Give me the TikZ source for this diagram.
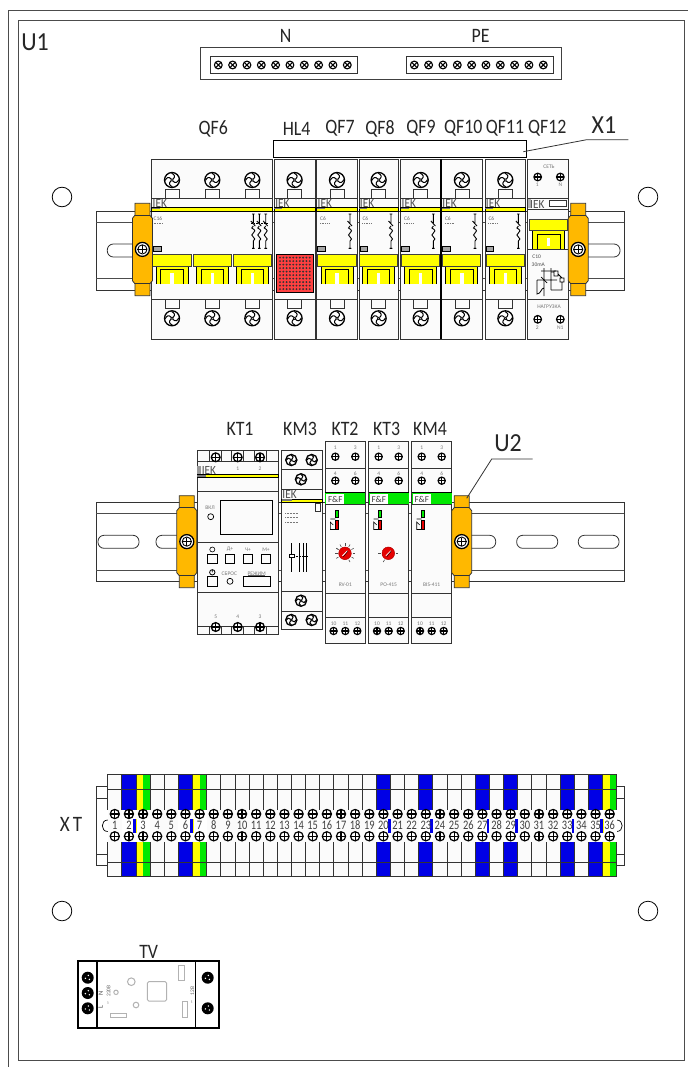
\documentclass[tikz,border=0pt]{standalone}
\usepackage{fontspec}
\setmainfont{Carlito}
\definecolor{clampc}{HTML}{FFB800}
\definecolor{ye}{HTML}{FFFF00}
\definecolor{gr}{HTML}{00E800}
\definecolor{bl}{HTML}{0000E6}
\definecolor{re}{HTML}{FF4040}
\definecolor{dk}{HTML}{333333}
\definecolor{tgray}{HTML}{777777}
\definecolor{paper}{HTML}{FBFBFB}
\tikzset{
 lbl/.style={font=\fontsize{20.5}{20.5}\selectfont,inner sep=0pt,text=black!85,xscale=0.87},
 biglbl/.style={font=\fontsize{26}{26}\selectfont,inner sep=0pt,text=black!85,xscale=0.92},
 tiny/.style={font=\fontsize{5.5}{6}\selectfont,inner sep=0pt,text=tgray},
 small/.style={font=\fontsize{7}{7}\selectfont,inner sep=0pt,text=tgray},
 iek/.style={font=\fontsize{12.5}{12.5}\selectfont,inner sep=0pt,text=black!70,anchor=west,xscale=.9},
 ln/.style={draw=dk,line width=0.8pt},
 hv/.style={draw=black,line width=1pt},
}
% pinwheel screw: x y r
\newcommand{\pinw}[3]{\begin{scope}[shift={(#1,#2)},scale=#3]
 \draw[fill=white,line width=1.3pt] (0,0) circle (1);
 \foreach \a in {0,90,180,270}{\draw[rotate=\a,line width=1pt] (.1,.12) .. controls (.45,.5) and (.7,.35) .. (.9,-.05);}
 \draw[fill=white,line width=.6pt] (0,0) circle (.16);
\end{scope}}
% cross screw
\newcommand{\crs}[4][1.2pt]{\begin{scope}[shift={(#2,#3)},scale=#4]
 \draw[fill=white,line width=#1] (0,0) circle (1);
 \draw[line width=#1] (-1,0)--(1,0) (0,-1)--(0,1);
\end{scope}}
% x screw
\newcommand{\xcrs}[2]{\begin{scope}[shift={(#1,#2)},scale=3.9]
 \draw[fill=white,line width=1.1pt] (0,0) circle (1);
 \draw[line width=1.1pt] (-.7,-.7)--(.7,.7) (-.7,.7)--(.7,-.7);
\end{scope}}
% din rail ytop ybottom line1 line2
\newcommand{\railbody}[4]{\draw[ln,fill=white] (96.3,#1) rectangle (624.3,#2);
 \draw[ln,draw=black!70,line width=1pt] (96.3,#3)--(624.3,#3) (96.3,#4)--(624.3,#4);}
\newcommand{\slotr}[4]{\draw[ln,rounded corners=6pt] (#1,#3) rectangle (#2,#4);}
% din clamp cx ytop ybottom
\newcommand{\clampd}[3]{
 \draw[draw=dk,line width=.8pt,fill=clampc] (#1-7.5,#2)--(#1+7.5,#2)--(#1+7.5,#2+12)--(#1+10,#2+15)--(#1+10,#3-15)--(#1+7.5,#3-12)--(#1+7.5,#3)--(#1-7.5,#3)--(#1-7.5,#3-12)--(#1-10,#3-15)--(#1-10,#2+15)--(#1-7.5,#2+12)--cycle;
 \draw[draw=dk,line width=.7pt] (#1-7.5,#2+12)--(#1+7.5,#2+12) (#1-7.5,#3-12)--(#1+7.5,#3-12);
 \pgfmathsetmacro\cy{(#2+#3)/2-.1}
 \draw[fill=white,line width=1.3pt] (#1,\cy) circle (7);
 \draw[fill=white,line width=.9pt] (#1,\cy) circle (4.6);
 \draw[line width=.9pt] (#1-5,\cy)--(#1+5,\cy) (#1,\cy-4)--(#1,\cy+4);
}
% pole of a breaker: cx
\newcommand{\pole}[1]{
 \draw[ln] (#1-7,189.3) rectangle (#1+7,198.7);
 \draw[ln] (#1-7,299.3) rectangle (#1+7,308.7);
 \pinw{#1}{180}{7.5}
 \pinw{#1}{318.3}{7.5}
}
\newcommand{\yellowp}[1]{
 \fill[ye] (#1-16,266) rectangle (#1+16,284.3);
 \draw[draw=black,line width=.9pt] (#1-16,266)--(#1-16,284.3) (#1+16,266)--(#1+16,284.3);
 \draw[draw=black,line width=1pt] (#1-11.3,284.3)--(#1-11.3,269.3)--(#1+11.3,269.3)--(#1+11.3,284.3);
 \fill[white] (#1-1.6,273.3) rectangle (#1+1.6,284.3);
 \draw[draw=black!75,line width=1pt,fill=ye] (#1-19.2,254) rectangle (#1+19,266);
}
% module box xl xr
\newcommand{\modb}[2]{
 \draw[draw=dk,line width=1pt,fill=paper] (#1,159.3) rectangle (#2,339);
 \draw[ln] (#1,198.7)--(#2,198.7) (#1,299.3)--(#2,299.3);
 \draw[draw=black,line width=.7pt,fill=ye] (#1,207.3) rectangle (#2,211);
 \fill[tgray] (#1,207.6) rectangle (#1+8,209.3);
 \node[iek] at (#1+.8,203.2) {IEK};
}
\newcommand{\ctxt}[2]{\node[tiny,anchor=west,text=black!60] at (#1,219) {#2};
 \draw[tgray,line width=.4pt,dash pattern=on 1pt off .7pt] (#1,223)--(#1+9,223);}
\newcommand{\gsq}[1]{\draw[draw=black,line width=.7pt,fill=black!35] (#1+1,246.7) rectangle (#1+8.5,251.7);}
% breaker symbol
\newcommand{\symb}[1]{
 \draw[black,line width=.9pt] (#1,214)--(#1,223) (#1-1.3,214)--(#1+1.3,214) (#1-2.5,221)--(#1+2,226) (#1,226)--(#1-1.5,228)
 .. controls (#1+2.5,230) and (#1+2,232) .. (#1,233) .. controls (#1-2,234) and (#1-2,236) .. (#1,237) .. controls (#1+2,238) and (#1+2,240) .. (#1,241) -- (#1,248.3)
 (#1-1.3,248.3)--(#1+1.3,248.3);
}
\newcommand{\relaym}[3]{ % xl name name-of-node
 \draw[draw=dk,line width=1pt,fill=paper] (#1,441.7) rectangle (#1+40,643.3);
 \draw[ln] (#1,468.3)--(#1+40,468.3) (#1,593)--(#1+40,593) (#1,617.3)--(#1+40,617.3);
 \fill[gr] (#1,493) rectangle (#1+40,504.3);
 \fill[white] (#1+1,494) rectangle (#1+19,504);
 \draw[black,line width=1.2pt] (#1,492.7)--(#1+40,492.7);
 \draw[dk,line width=.6pt] (#1,504.5)--(#1+40,504.5);
 \node[inner sep=0pt,font=\fontsize{9}{9}\selectfont,text=black!75] at (#1+10,499.3) {F\&F};
 \foreach \dx/\t in {10/1,30/3}{\node[tiny] at (#1+\dx,448) {\t};\crs[1.2pt]{#1+\dx}{456.7}{3.6}}
 \foreach \dx/\t in {10/4,30/6}{\node[tiny] at (#1+\dx,473.3) {\t};\crs[1.2pt]{#1+\dx}{480.7}{3.6}}
 \foreach \dx/\t in {8.3/10,20/11,32/12}{\node[tiny] at (#1+\dx,623.3) {\t};\crs[1.2pt]{#1+\dx}{631}{3.6}}
 \node[tiny] at (#1+20,585) {#2};
 \draw[black,line width=.5pt,fill=gr] (#1+10,510) rectangle (#1+13,517.7);
 \draw[black,line width=.5pt,fill=red!90!black] (#1+10,520.7) rectangle (#1+13,529);
 \draw[black,line width=.6pt] (#1+10,519)--(#1+5,519) (#1+10,529.5)--(#1+5,529.5)--(#1+5,522)--(#1+8,525);
}
\newcommand{\dial}[2]{
 \draw[fill=red!90!black,draw=red!70!black,line width=.5pt] (#1,553.3) circle (6.3);
 \draw[white,line width=.8pt] (#1-2.5,555.8)--(#1+2.5,550.8);
 \draw[black,line width=.4pt] (#1-1.5,556.8)--(#1+3,551);
 \foreach \a in {#2}{\draw[black!70,line width=.6pt] (#1,553.3) ++(\a:7.5)--++(\a:2.6);}
}
\begin{document}
\begin{tikzpicture}[x=1pt,y=-1pt,line cap=butt]
\useasboundingbox (0,0) rectangle (688,1067);
\fill[white] (0,0) rectangle (688,1067);
% frames
\draw[draw=black!70,line width=1pt] (8,1067)--(8,11)--(688,11);
\draw[draw=black!70,line width=1pt] (18,21) rectangle (684,1060);
\node[biglbl] (lU1) at (35,42) {U1};
% N PE
\draw[ln,draw=black!75] (200.7,47.7) rectangle (561.7,79.3);
\draw[ln] (210.7,56.7) rectangle (357.3,73.3);
\draw[ln] (406.7,56.7) rectangle (553.3,73.3);
\foreach \i in {0,...,9}{\xcrs{218.3+14.33*\i}{65}\xcrs{414.3+14.33*\i}{65}}
\node[lbl] (lN) at (285.7,36) {N};
\node[lbl] (lPE) at (480.7,36) {PE};
% mounting holes
\foreach \x/\y in {62/197,648/197,62/911,648/911}{\draw[black,line width=.8pt] (\x,\y) circle (9.8);}
% labels top
\foreach \t/\x in {QF6/213.3,HL4/296.7,QF7/340,QF8/380,QF9/421,QF10/463.3,QF11/505,QF12/547.3}{\node[lbl] (l\t) at (\x,128.5) {\t};}
\draw[ln,draw=black] (273.3,140.3) rectangle (526,157.3);
\coordinate (x1a) at (523.3,151.7);\coordinate (x1b) at (586.7,139.7);\coordinate (x1c) at (628.3,139.7);
\draw[ln] (x1a)--(x1b)--(x1c);
\node[biglbl] (lX1) at (604,125) {X1};
% rail row 1
\railbody{211.3}{290.3}{222.7}{278.3}
\slotr{107.3}{170}{244}{257}
\slotr{550}{620}{244}{257}
% QF6
\modb{151.7}{272.7}
\foreach \c in {172,212.3,252.3}{\pole{\c}\yellowp{\c}}
\ctxt{153.5}{C16}\gsq{152.7}
\symb{253.3}\symb{259.3}\symb{265.7}
\draw[black,line width=.5pt,dash pattern=on 1.5pt off 1pt] (251,223)--(268,223);
% HL4
\modb{274.3}{315}
\pole{294.6}
\draw[draw=black,line width=1pt,fill=re] (276,254) rectangle (313,292.7);
\foreach \i in {0,...,9}{\foreach \j in {0,...,9}{\fill[black!80] (280+3.3*\i,257.6+3.5*\j) circle (1.05);}}
% QF7-11
\foreach \xl/\xr in {316.7/357.3,359/398.3,400.7/440.7,441.5/482.3,485/525.7}{
 \pgfmathsetmacro\cc{(\xl+\xr)/2}
 \modb{\xl}{\xr}
 \pole{\cc}\yellowp{\cc}
 \ctxt{\xl+3.3}{C6}\gsq{\xl}
 \symb{\xr-7.3}
}
\draw[black,line width=1.3pt] (441,159.3)--(441,339);
% QF12
\draw[draw=dk,line width=1pt,fill=paper] (527.7,159.3) rectangle (568.7,339);
\draw[ln] (527.7,198.3)--(568.7,198.3) (527.7,209)--(568.7,209) (527.7,249.3)--(568.7,249.3) (527.7,299.3)--(568.7,299.3);
\fill[black!30] (527.7,198.7) rectangle (530.5,208.5);
\node[iek] at (530,204) {IEK};
\draw[ln,fill=white] (549,200.7) rectangle (566.7,206.7);
\fill[ye] (532.7,231) rectangle (564.3,249.3);
\draw[black,line width=.9pt] (532.7,231)--(532.7,249.3) (564.3,231)--(564.3,249.3);
\draw[black,line width=1pt] (537.3,249.3)--(537.3,234.3)--(560,234.3)--(560,249.3);
\fill[white] (546.7,238.3) rectangle (550,245.7);
\draw[draw=black!75,line width=1pt,fill=ye] (529,220) rectangle (567.3,231);
\node[tiny] (lseti) at (549,166.7) {СЕТЬ};
\node[tiny] (lnagr) at (549,306.7) {НАГРУЗКА};
\crs[1.2pt]{537.7}{177}{3.8}\crs[1.2pt]{560.3}{177}{3.8}
\crs[1.2pt]{537.7}{319.3}{3.8}\crs[1.2pt]{560.3}{319.3}{3.8}
\node[tiny] (l1a) at (537.3,185) {1};\node[tiny] (lNa) at (560.3,185) {N};
\node[tiny] (l2a) at (537.3,328) {2};\node[tiny] (lN1) at (560.3,328) {N1};
\node[tiny,text=black!70] (lC10) at (536.7,256.7) {C10};
\node[tiny,text=black!70] (l30) at (538.3,265) {30mA};
\draw[black,line width=.8pt] (544,268)--(544,296) (551,268)--(551,290) (537,280)--(557,280) (537,280)--(537,294) .. controls (541,294) and (541,288) .. (544,288);
\draw[black,line width=.8pt] (554,271) rectangle (558,276) (560,278) rectangle (564,282) (551,272)--(554,272) (558,274)--(562,278) (551,290)--(562,290)--(562,282);
\draw[black,line width=.7pt] (541,271)--(556,271) (541,277)--(547,283);
% clamps row 1
\clampd{142.4}{203.3}{295.7}
\clampd{578.2}{203.3}{295.7}
% rail row 2
\railbody{502.7}{581.3}{513.7}{570}
\slotr{98}{139}{535.3}{548.3}
\slotr{156}{190}{535.3}{548.3}
\slotr{455}{495.7}{535.3}{548.3}
\slotr{516.7}{557.7}{535.3}{548.3}
\slotr{578.3}{619}{535.3}{548.3}
% row 2 labels
\foreach \t/\x in {KT1/240,KM3/300,KT2/345,KT3/386.7,KM4/430}{\node[lbl] (l\t) at (\x,428.5) {\t};}
% KT1
\draw[draw=dk,line width=1pt,fill=paper] (197.3,450.7) rectangle (278.3,634);
\draw[ln] (197.3,461.7)--(278.3,461.7) (197.3,491)--(278.3,491) (197.3,542.3)--(278.3,542.3) (197.3,592.7)--(278.3,592.7) (197.3,626)--(278.3,626);
\fill[black!40] (197.3,466) rectangle (201,474);
\node[iek] at (201.7,470) {IEK};
\draw[draw=black,line width=.6pt,fill=ye] (197.3,474.3) rectangle (278.3,477.7);
\fill[tgray] (197.3,474.6) rectangle (206,476.5);
\foreach \x in {215.7,237.7,260}{
 \draw[ln] (\x-6,450.7) rectangle (\x+6,461.7);
 \draw[ln] (\x-6,626) rectangle (\x+6,634);
 \crs[1.3pt]{\x}{457.3}{4.4}\crs[1.3pt]{\x}{627}{4.4}}
\foreach \x/\t/\n in {237.7/1/a,260/2/b}{\node[tiny] (k\n) at (\x,469) {\t};}
\foreach \x/\t/\n in {215.7/5/c,237.7/4/d,260/3/e}{\node[tiny] (k\n) at (\x,616.7) {\t};}
\draw[draw=black,line width=.8pt] (220.7,500.3) rectangle (272.3,534);
\node[tiny] (kvkl) at (210,507.7) {ВКЛ};
\draw[black,line width=.7pt] (210.7,516.7) circle (3);
\foreach \x in {207.7,225.3,243.3,261.3}{\draw[black,line width=.7pt] (\x,554) rectangle (\x+9.4,563.7);}
\draw[black,line width=.7pt] (207.7,576) rectangle (217,586);
\draw[black,line width=.6pt] (212.3,549.5) circle (2.5);
\draw[black,line width=.8pt] (212.3,572.3) circle (2.7) (212.3,569.5)--(212.3,572.3);
\node[tiny] (kd) at (230,549.5) {Д+};
\node[tiny] (kch) at (248,549.5) {Ч+};
\node[tiny] (km) at (266,549.5) {М+};
\node[tiny] (ksb) at (229.3,573.7) {СБРОС};
\draw[black,line width=.7pt] (230,581.3) circle (3);
\node[tiny] (krz) at (256.7,573.7) {РЕЖИМ};
\draw[black,line width=.7pt] (243.3,576.3) rectangle (270.3,586.3);
\draw[black!60,line width=.5pt] (248,575)--(265,575);
% KM3
\draw[draw=dk,line width=1pt,fill=paper] (281.7,450.7) rectangle (322.3,629.3);
\draw[ln] (281.7,469.3)--(322.3,469.3) (281.7,489.3)--(322.3,489.3) (281.7,591)--(322.3,591) (281.7,611)--(322.3,611);
\node[iek] at (282.3,494.3) {IEK};
\draw[draw=black,line width=.6pt,fill=ye] (281.7,499) rectangle (322.3,502.3);
\fill[tgray] (281.7,499.3) rectangle (292,501.3);
\draw[ln,fill=white] (315,503.3) rectangle (320.7,511.7);
\pinw{291.3}{460}{5.6}\pinw{311.7}{460}{5.6}\pinw{301}{479.3}{5.6}
\pinw{301}{600.7}{5.6}\pinw{291.3}{620}{5.6}\pinw{311.7}{620}{5.6}
\draw[black,line width=.7pt] (291,543)--(291,555) (291,558)--(291,572) (299.3,543)--(299.3,572) (303.3,543)--(303.3,572) (306.7,543)--(306.7,572);
\draw[black,line width=.7pt,fill=white] (289,554.5) rectangle (294,557.5);
\draw[black,line width=.5pt,dash pattern=on 1pt off .6pt] (294,556)--(307,556);
\foreach \y in {513.5,517.5,522}{\draw[tgray,line width=.5pt,dash pattern=on 1pt off .5pt] (285,\y)--(298,\y);}
% relays
\relaym{325.3}{RV-01}{a}
\relaym{368.7}{PO-415}{b}
\relaym{411.7}{BIS-411}{c}
\dial{345}{-150,-120,-90,-60,-30,0,30,60,150,180,210}
\dial{388.3}{0,180,120}
% clamps row 2
\clampd{186.8}{495.7}{587.7}
\clampd{461.7}{495.7}{587.7}
\coordinate (u2a) at (466.7,498.3);\coordinate (u2b) at (491.7,459);\coordinate (u2c) at (532.7,459);
\draw[ln] (u2a)--(u2b)--(u2c);
\node[biglbl] (lU2) at (508,443.3) {U2};
% terminal block
\draw[ln] (96.3,786.7) rectangle (624.3,865);
\draw[ln] (96.3,798.3)--(624.3,798.3) (96.3,854.3)--(624.3,854.3);
\node[lbl,font=\fontsize{22}{22}\selectfont] (lXT) at (71,824) {X\,T};
\fill[paper] (107.7,774.3) rectangle (616.7,876.7);
\draw[black,line width=.7pt] (107.7,820) .. controls (100.5,820) and (100.5,831.5) .. (107.7,831.5);
\draw[black,line width=.7pt] (616.7,820) .. controls (624,820) and (624,831.5) .. (616.7,831.5);
\foreach \i in {2,6,20,23,27,29,33,35}{
 \pgfmathsetmacro\xa{107.7+14.14*(\i-1)}
 \fill[bl] (\xa,774.3) rectangle (\xa+14.14,876.7);
 \fill[white] (\xa,810) rectangle (\xa+14.14,842.3);
 \fill[bl] (\xa+11.6,818.5) rectangle (\xa+14.14,833);
}
\foreach \i in {3,7,36}{
 \pgfmathsetmacro\xa{107.7+14.14*(\i-1)}
 \fill[ye] (\xa,774.3) rectangle (\xa+7.07,876.7);
 \fill[gr] (\xa+7.07,774.3) rectangle (\xa+14.14,876.7);
 \fill[white] (\xa,810) rectangle (\xa+14.14,842.3);
 \fill[ye] (\xa,818.5) rectangle (\xa+1.3,833);
}
\foreach \i in {0,...,36}{
 \pgfmathsetmacro\xa{107.7+14.14*\i}
 \draw[draw=dk,line width=.9pt] (\xa,774.3)--(\xa,810) (\xa,842.3)--(\xa,876.7);
}
\draw[draw=dk,line width=1pt] (107.7,774.3)--(616.7,774.3) (107.7,789)--(616.7,789) (107.7,862.7)--(616.7,862.7) (107.7,876.7)--(616.7,876.7);
\foreach \i in {1,...,36}{
 \pgfmathsetmacro\xc{107.7+14.14*(\i-.5)}
 \crs[1.2pt]{\xc}{814}{4.6}
 \crs[1.2pt]{\xc}{836.3}{4.6}
 \node[inner sep=0pt,font=\fontsize{13}{13}\selectfont,text=black!75,xscale=.8] (t\i) at (\xc,825.5) {\i};
}
% TV
\node[lbl] (lTV) at (148.7,951.5) {TV};
\draw[black,line width=1.6pt] (77.7,961) rectangle (219,1027.7);
\draw[black,line width=1.3pt] (97,961)--(97,1027.7) (195.3,961)--(195.3,1027.7);
\foreach \x/\y in {87.7/977.7,87.7/993,87.7/1008.3,207.7/977.7,207.7/1008.3}{
 \fill[black] (\x,\y) circle (6);
 \foreach \a in {45,165,285}{\fill[white] (\x,\y) ++(\a:2.4) circle (.8);}
}
\begin{scope}[draw=black!30,line width=1pt]
\draw[rounded corners=1.5pt] (147.3,981.7) rectangle (166.7,1001);
\draw (131.3,981.7) circle (3.8);
\draw (116,992.3) circle (2.2);
\draw (136,1005) circle (2.8);
\draw (110.7,1013.3) rectangle (126,1017.3);
\draw (178.7,965) rectangle (184,980.7);
\draw (182.3,1001.7) rectangle (187.7,1017.3);
\end{scope}
\node[tiny,rotate=90,text=black!70,font=\fontsize{6.5}{7}\selectfont] (tvN) at (100.7,993) {N};
\node[tiny,rotate=90,text=black!70,font=\fontsize{7}{7}\selectfont] (tvL) at (100.7,1007) {L};
\node[tiny,rotate=90,text=black!60] (tv220) at (108.7,991) {220В};
\node[tiny,rotate=90,text=black!60] (tvd) at (108.7,1003) {\textasciitilde};
\node[tiny,rotate=90,text=black!60] (tv12) at (192.3,991) {12В};
\node[tiny,rotate=90,text=black!60] (tvd2) at (192.3,1002) {\textasciitilde};
\end{tikzpicture}
\end{document}
